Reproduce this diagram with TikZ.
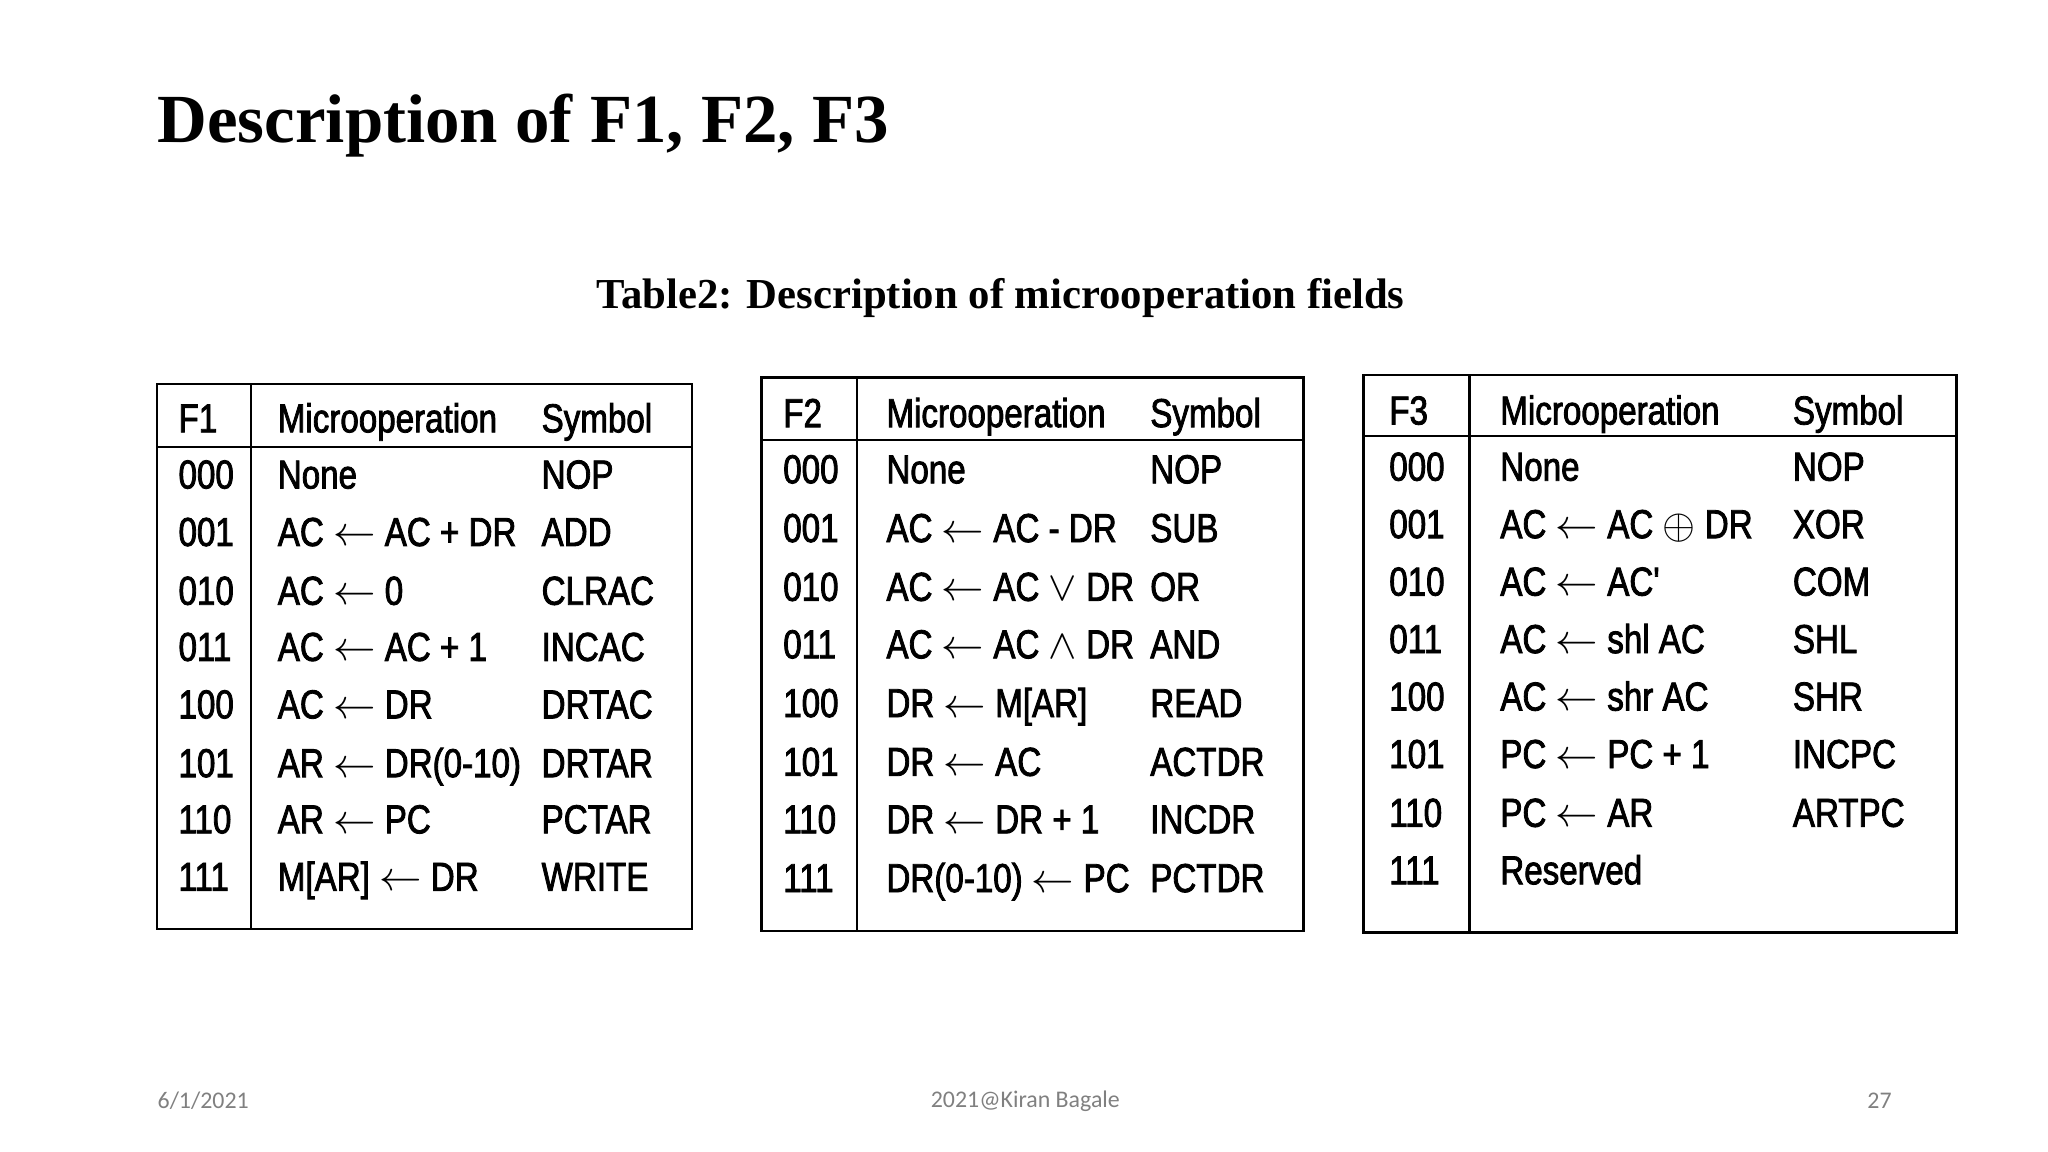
\documentclass[tikz,border=0pt]{standalone}
\usepackage{fontspec}
\setmainfont{Liberation Serif}
\newfontfamily\tabfont[FakeStretch=0.82,FakeBold=2]{Liberation Sans}
\newfontfamily\footfont{Carlito}
\begin{document}
\begin{tikzpicture}[x=0.01cm,y=-0.01cm,
  cell/.style={anchor=base west,inner sep=0pt,yshift=-0.11cm,font=\tabfont\fontsize{8.8pt}{10pt}\selectfont},
  tline/.style={line width=0.5pt,black}]
\useasboundingbox (0,0) rectangle (1568,882);
\node[anchor=west,inner sep=0pt,font=\bfseries\fontsize{15pt}{18pt}\selectfont] (title) at (120,96) {Description of F1, F2, F3};
\node[inner sep=0pt,font=\bfseries\fontsize{9.3pt}{12pt}\selectfont] (cap) at (766,228) {Table2: Description of microoperation fields};
% F1
\draw[tline] (120,294) rectangle (530,711);
\draw[tline] (120,342) -- (530,342);
\draw[tline] (192,294) -- (192,711);
\foreach \y/\a/\b/\c [count=\i] in {320/F1/Microoperation/Symbol,363/000/None/NOP,407/001/{AC $\leftarrow$ AC + DR}/ADD,452/010/{AC $\leftarrow$ 0}/CLRAC,495/011/{AC $\leftarrow$ AC + 1}/INCAC,539/100/{AC $\leftarrow$ DR}/DRTAC,584/101/{AR $\leftarrow$ DR(0-10)}/DRTAR,627/110/{AR $\leftarrow$ PC}/PCTAR,671/111/{M[AR] $\leftarrow$ DR}/WRITE}{
  \node[cell] (a1\i) at (136,\y) {\a};
  \node[cell] (b1\i) at (212,\y) {\b};
  \node[cell] (c1\i) at (414,\y) {\c};}
% F2
\draw[tline] (583,289) rectangle (998,713);
\draw[tline] (583,337) -- (998,337);
\draw[tline] (656,289) -- (656,713);
\foreach \y/\a/\b/\c [count=\i] in {316/F2/Microoperation/Symbol,359/000/None/NOP,404/001/{AC $\leftarrow$ AC - DR}/SUB,449/010/{AC $\leftarrow$ AC $\vee$ DR}/OR,493/011/{AC $\leftarrow$ AC $\wedge$ DR}/AND,538/100/{DR $\leftarrow$ M[AR]}/READ,583/101/{DR $\leftarrow$ AC}/ACTDR,627/110/{DR $\leftarrow$ DR + 1}/INCDR,672/111/{DR(0-10) $\leftarrow$ PC}/PCTDR}{
  \node[cell] (a2\i) at (599,\y) {\a};
  \node[cell] (b2\i) at (678,\y) {\b};
  \node[cell] (c2\i) at (880,\y) {\c};}
% F3
\draw[tline] (1044,287) rectangle (1498,714);
\draw[tline] (1044,334) -- (1498,334);
\draw[tline] (1125,287) -- (1125,714);
\foreach \y/\a/\b/\c [count=\i] in {314/F3/Microoperation/Symbol,357/000/None/NOP,401/001/{AC $\leftarrow$ AC $\oplus$ DR}/XOR,445/010/{AC $\leftarrow$ AC'}/COM,489/011/{AC $\leftarrow$ shl AC}/SHL,533/100/{AC $\leftarrow$ shr AC}/SHR,577/101/{PC $\leftarrow$ PC + 1}/INCPC,622/110/{PC $\leftarrow$ AR}/ARTPC,666/111/Reserved/{}}{
  \node[cell] (a3\i) at (1063,\y) {\a};
  \node[cell] (b3\i) at (1148,\y) {\b};
  \node[cell] (c3\i) at (1372,\y) {\c};}
% footer
\node[anchor=west,inner sep=0pt,text=gray,font=\footfont\fontsize{5.2pt}{6pt}\selectfont] (date) at (120,843) {6/1/2021};
\node[inner sep=0pt,text=gray,font=\footfont\fontsize{5.2pt}{6pt}\selectfont] (auth) at (785,843) {2021@Kiran Bagale};
\node[anchor=east,inner sep=0pt,text=gray,font=\footfont\fontsize{5.2pt}{6pt}\selectfont] (page) at (1449,843) {27};
\end{tikzpicture}
\end{document}
